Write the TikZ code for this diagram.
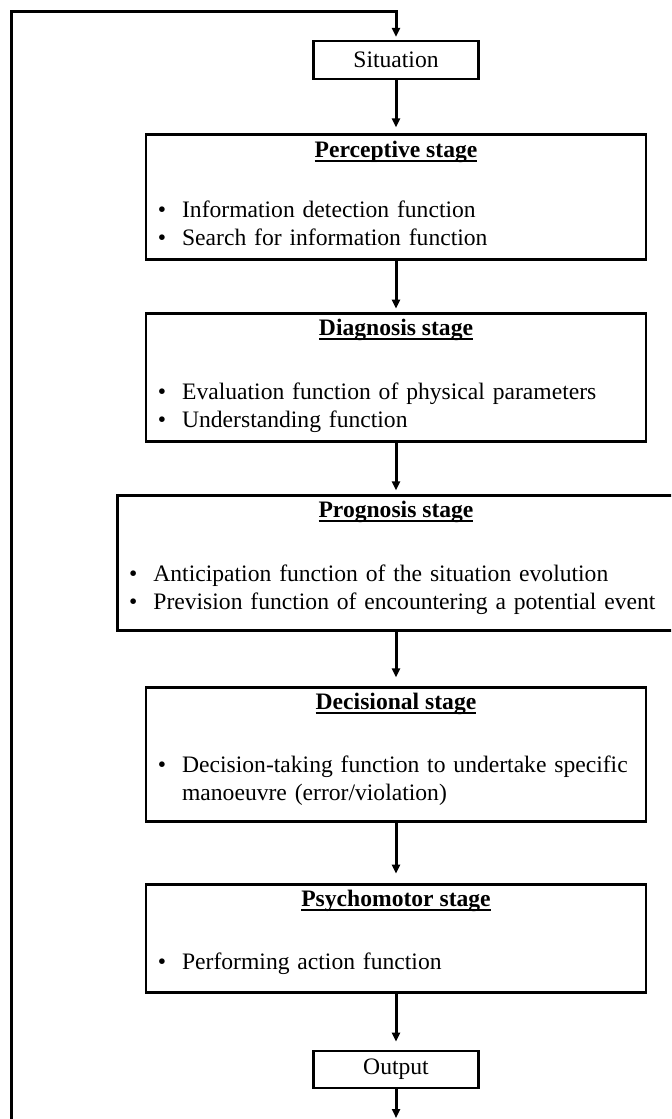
\documentclass[tikz,border=0pt]{standalone}
\usepackage{fontspec}
\setmainfont{Liberation Serif}
\usetikzlibrary{arrows.meta}

% bold title with a thick underline
\newcommand{\stagehead}[1]{\setbox0\hbox{\textbf{#1}}\rlap{\rule[-2.3pt]{\wd0}{0.9pt}}\box0}
\newenvironment{stageitems}{\begin{list}{\textbullet}{\setlength{\leftmargin}{18.5pt}\setlength{\labelwidth}{10pt}\setlength{\labelsep}{8pt}\setlength{\itemsep}{0pt}\setlength{\parsep}{0pt}\setlength{\topsep}{0pt}\setlength{\partopsep}{0pt}}}{\end{list}}

\begin{document}
\begin{tikzpicture}[x=0.5pt,y=-0.5pt,line join=miter,
	font=\fontsize{11.8pt}{14pt}\selectfont,
	stage/.style={draw,line width=1.3pt,inner sep=0pt,minimum width=250pt},
	tag/.style={draw,line width=1.3pt,inner sep=0pt,minimum width=82.5pt,minimum height=19pt},
	head/.style={anchor=base,inner sep=0pt},
	items/.style={anchor=base west,inner sep=0pt,text width=247pt},
	flow/.style={line width=1.5pt,-{Triangle[length=4.5pt,width=4pt]},shorten >=2pt}]
				\useasboundingbox (0,0) rectangle (671,1119);
				\clip (0,0) rectangle (671,1119);
				% boxes
				\node[tag] (sit) at (396,60) {Situation};
				\node[stage,minimum height=62.5pt,anchor=north] (percep) at (396,133) {};
				\node[stage,minimum height=64pt,anchor=north] (diag) at (396,312) {};
				\node[stage,minimum width=284pt,minimum height=67.5pt,anchor=north west] (prog) at (116,494) {};
				\node[stage,minimum height=67pt,anchor=north] (decis) at (396,686) {};
				\node[stage,minimum height=54pt,anchor=north] (psycho) at (396,883) {};
				\node[tag,minimum height=18.5pt] (out) at (396,1069.5) {Output};
				% titles
				\node[head] (percepH) at ([shift={(0,24)}]percep.north) {\stagehead{Perceptive stage}};
				\node[head] (diagH) at ([shift={(0,23)}]diag.north) {\stagehead{Diagnosis stage}};
				\node[head] (progH) at ([shift={(0,23)}]diag.north |- prog.north) {\stagehead{Prognosis stage}};
				\node[head] (decisH) at ([shift={(0,23)}]decis.north) {\stagehead{Decisional stage}};
				\node[head] (psychoH) at ([shift={(0,23)}]psycho.north) {\stagehead{Psychomotor stage}};
				% functions
				\node[items] (percepL) at ([shift={(0,56)}]percep.north west) {\begin{stageitems}\item Information detection function\item Search for information function\end{stageitems}};
				\node[items] (diagL) at ([shift={(0,59)}]diag.north west) {\begin{stageitems}\item Evaluation function of physical parameters\item Understanding function\end{stageitems}};
				\node[items,text width=281pt] (progL) at ([shift={(0,59)}]prog.north west) {\begin{stageitems}\item Anticipation function of the situation evolution\item Prevision function of encountering a potential event\end{stageitems}};
				\node[items] (decisL) at ([shift={(0,58)}]decis.north west) {\begin{stageitems}\item Decision-taking function to undertake specific manoeuvre (error/violation)\end{stageitems}};
				\node[items] (psychoL) at ([shift={(0,58)}]psycho.north west) {\begin{stageitems}\item Performing action function\end{stageitems}};
				% arrows
				\coordinate (loopstart) at (11,1130);
				\coordinate (looptop) at (11,11);
				\coordinate (outend) at (396,1118);
				\draw[flow,shorten >=1.4pt] (loopstart) -- (looptop) -| (sit.north);
				\draw[flow,shorten >=2.8pt] (sit.south) -- (percep.north);
				\draw[flow,shorten >=1.7pt] (percep.south) -- (diag.north);
				\draw[flow,shorten >=1.8pt] (diag.south) -- (diag.south |- prog.north);
				\draw[flow,shorten >=4.3pt] (decis.north |- prog.south) -- (decis.north);
				\draw[flow,shorten >=4.7pt] (decis.south) -- (psycho.north);
				\draw[flow,shorten >=4pt] (psycho.south) -- (out.north);
				\draw[flow,shorten >=0pt] (out.south) -- (outend);
\end{tikzpicture}
\end{document}
